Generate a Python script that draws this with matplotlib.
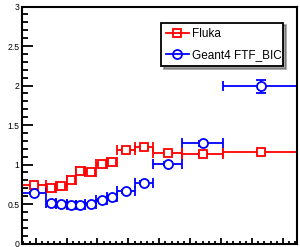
import matplotlib
matplotlib.use("Agg")
import matplotlib.pyplot as plt
from matplotlib.lines import Line2D
from matplotlib.ticker import MultipleLocator
import numpy as np

plt.rcParams['font.family'] = ['Liberation Sans', 'DejaVu Sans']

# bin edges (x axis labels are cut off in the reference, arbitrary units)
bin_edges = np.array([0.56, 1.33, 1.66, 2.0, 2.29, 2.6, 2.95, 3.32,
                      3.63, 4.21, 4.8, 5.74, 7.06, 9.55])

fluka = [0.74, 0.70, 0.73, 0.80, 0.92, 0.91, 1.01, 1.03, 1.18, 1.22, 1.15, 1.13, 1.16]
fluka_err = [0.01, 0.01, 0.01, 0.01, 0.01, 0.01, 0.01, 0.01, 0.02, 0.02, 0.02, 0.02, 0.02]

geant = [0.64, 0.51, 0.50, 0.49, 0.49, 0.50, 0.55, 0.59, 0.66, 0.77, 1.01, 1.27, 1.99]
geant_err = [0.01, 0.01, 0.01, 0.01, 0.01, 0.01, 0.01, 0.01, 0.02, 0.02, 0.02, 0.03, 0.08]

labels = ["Fluka", "Geant4 FTF_BIC"]

centers = (bin_edges[:-1] + bin_edges[1:]) / 2
half_w = (bin_edges[1:] - bin_edges[:-1]) / 2

fig = plt.figure(figsize=(3.0, 2.47), dpi=100)
ax = fig.add_axes([22 / 300, 3.5 / 247, 275 / 300, 237 / 247])

lw = 1.3
ax.errorbar(centers, fluka, xerr=half_w, yerr=fluka_err, fmt="s", color="red",
            mfc="white", mec="red", mew=lw, ms=6.3, elinewidth=lw,
            capsize=3.5, capthick=lw)
ax.errorbar(centers, geant, xerr=half_w, yerr=geant_err, fmt="o", color="blue",
            mfc="white", mec="blue", mew=lw, ms=6.5, elinewidth=lw,
            capsize=3.5, capthick=lw)

ax.set_xlim(0.557, 9.456)
ax.set_ylim(0, 3)

ax.xaxis.set_major_locator(MultipleLocator(1))
ax.xaxis.set_minor_locator(MultipleLocator(0.2))
ax.yaxis.set_major_locator(MultipleLocator(0.5))
ax.yaxis.set_minor_locator(MultipleLocator(0.1))
ax.yaxis.set_major_formatter(matplotlib.ticker.FuncFormatter(lambda v, p: "%g" % v))

ax.tick_params(axis="both", which="both", direction="in", top=False, right=False,
               width=1.3, labelsize=6.2, pad=2, colors="black")
ax.tick_params(axis="y", which="major", length=8)
ax.tick_params(axis="y", which="minor", length=4)
ax.tick_params(axis="x", which="major", length=4)
ax.tick_params(axis="x", which="minor", length=2)

for s in ax.spines.values():
    s.set_linewidth(1.5)

handles = [
    Line2D([], [], color="red", marker="s", mfc="none", mec="red", mew=lw, ms=6, lw=lw),
    Line2D([], [], color="blue", marker="o", mfc="none", mec="blue", mew=lw, ms=6.5, lw=lw),
]
leg = ax.legend(handles, labels, loc="center left", mode="expand",
                bbox_to_anchor=(0.505, 0.745, 0.444, 0.19), fontsize=8.5,
                frameon=True, fancybox=False, shadow=True, borderpad=0.45,
                handlelength=1.9, handletextpad=0.3, labelspacing=0.75,
                borderaxespad=0)
leg.get_frame().set_edgecolor("black")
leg.get_frame().set_linewidth(1.3)

plt.savefig("out.png", dpi=100)
